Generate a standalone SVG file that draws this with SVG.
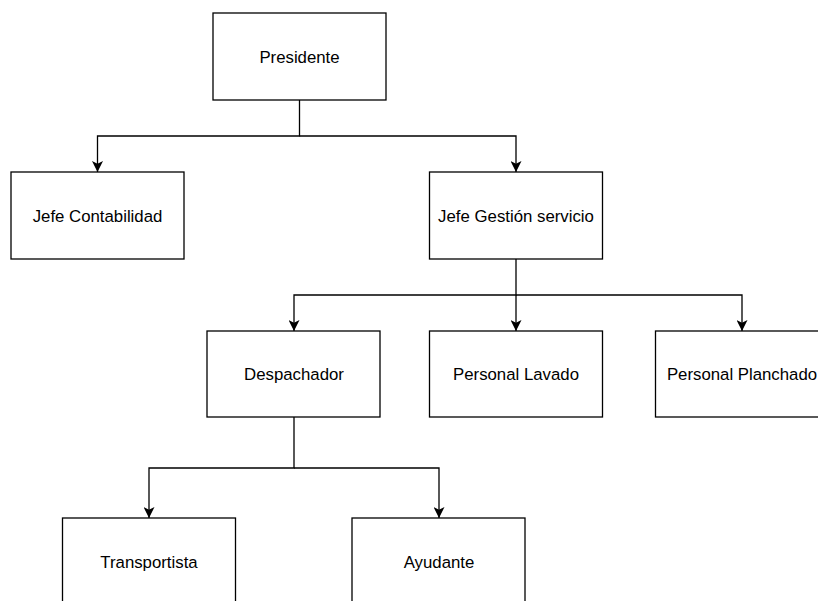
<svg xmlns="http://www.w3.org/2000/svg" width="818" height="601" viewBox="0 0 818 601">
<style>
.box{fill:#fff;stroke:#000;stroke-width:1.3}
.lbl{font-family:"Liberation Sans",Arial,sans-serif;font-size:16.8px;fill:#000;text-anchor:middle}
.edge{fill:none;stroke:#000;stroke-width:1.3}
</style>
<defs>
<marker id="arr" viewBox="0 0 10 10" refX="10" refY="5" markerWidth="11" markerHeight="11" markerUnits="userSpaceOnUse" orient="auto">
<path d="M0,0 L10,5 L0,10 L2.5,5 Z" fill="#000"/>
</marker>
</defs>
<rect width="818" height="601" fill="#fff"/>
<g id="connectors">
<path class="edge" d="M299.5,100 V136 H97.5 V172" marker-end="url(#arr)"/>
<path class="edge" d="M299.5,136 H516 V172" marker-end="url(#arr)"/>
<path class="edge" d="M516,259 V295 H294 V331" marker-end="url(#arr)"/>
<path class="edge" d="M516,295 V331" marker-end="url(#arr)"/>
<path class="edge" d="M516,295 H742 V331" marker-end="url(#arr)"/>
<path class="edge" d="M294,417 V468 H149 V518" marker-end="url(#arr)"/>
<path class="edge" d="M294,468 H439 V518" marker-end="url(#arr)"/>
</g>
<g id="presidente"><rect class="box" x="213" y="13" width="173" height="87"/><text class="lbl" x="299.5" y="62.5">Presidente</text></g>
<g id="jefe-contabilidad"><rect class="box" x="11" y="172" width="173" height="87"/><text class="lbl" x="97.5" y="221.5">Jefe Contabilidad</text></g>
<g id="jefe-gestion"><rect class="box" x="429.5" y="172" width="173" height="87"/><text class="lbl" x="516" y="221.5">Jefe Gestión servicio</text></g>
<g id="despachador"><rect class="box" x="207" y="331" width="173" height="86"/><text class="lbl" x="294" y="380">Despachador</text></g>
<g id="personal-lavado"><rect class="box" x="429.5" y="331" width="173" height="86"/><text class="lbl" x="516" y="380">Personal Lavado</text></g>
<g id="personal-planchado"><rect class="box" x="655.5" y="331" width="173" height="86"/><text class="lbl" x="742" y="380">Personal Planchado</text></g>
<g id="transportista"><rect class="box" x="62.5" y="518" width="173" height="87"/><text class="lbl" x="149" y="567.5">Transportista</text></g>
<g id="ayudante"><rect class="box" x="352" y="518" width="173" height="87"/><text class="lbl" x="439" y="567.5">Ayudante</text></g>
</svg>
